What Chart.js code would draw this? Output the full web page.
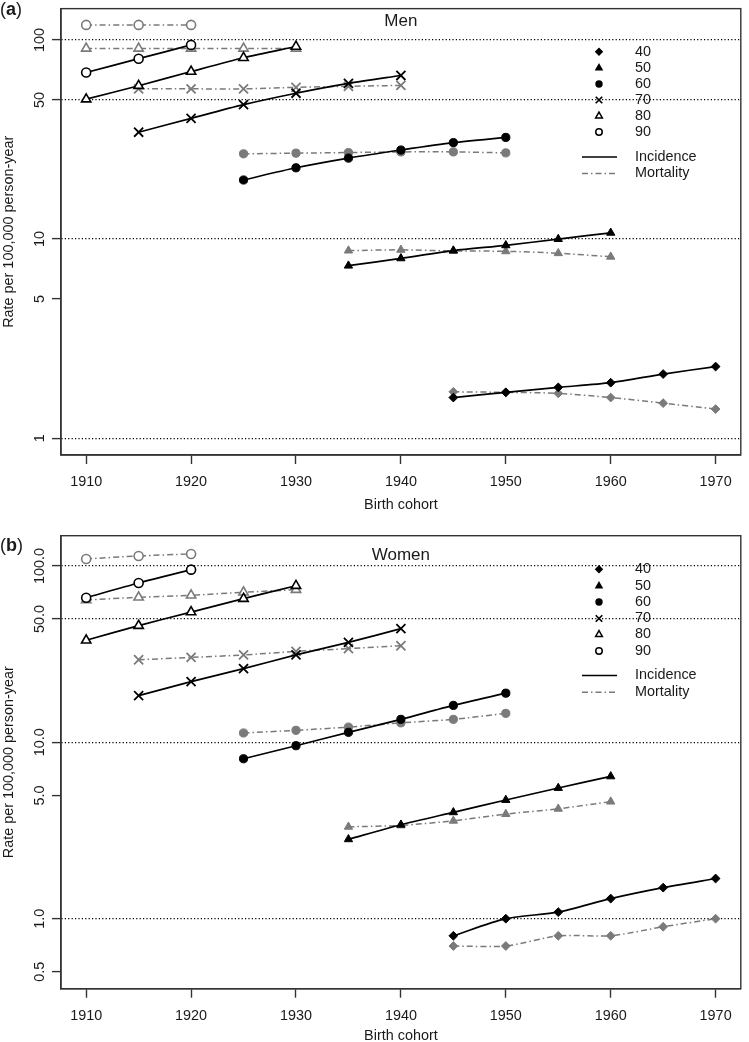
<!DOCTYPE html>
<html><head><meta charset="utf-8">
<script src="https://cdn.jsdelivr.net/npm/chart.js@4.4.0/dist/chart.umd.min.js"></script>
<style>
html,body{margin:0;padding:0;background:#fff;overflow:hidden;width:749px;height:1042px}
canvas{position:absolute;left:0}
#c1{top:0}
#c2{top:520px}
</style></head><body>
<canvas id="c1" width="749" height="520"></canvas>
<canvas id="c2" width="749" height="530"></canvas>
<script>
// ---------- data ----------
const ageGroups = ['40', '50', '60', '70', '80', '90'];
const cohorts40 = [1945, 1950, 1955, 1960, 1965, 1970];
const cohorts50 = [1935, 1940, 1945, 1950, 1955, 1960];
const cohorts60 = [1925, 1930, 1935, 1940, 1945, 1950];
const cohorts70 = [1915, 1920, 1925, 1930, 1935, 1940];
const cohorts80 = [1910, 1915, 1920, 1925, 1930];
const cohorts90 = [1910, 1915, 1920];

const menIncidence40 = [1.60, 1.70, 1.80, 1.90, 2.10, 2.29];
const menIncidence50 = [7.35, 8.0, 8.75, 9.3, 10.0, 10.75];
const menIncidence60 = [19.8, 22.8, 25.5, 28.0, 30.5, 32.4];
const menIncidence70 = [34.4, 40.4, 47.3, 54.0, 60.5, 66.3];
const menIncidence80 = [50.4, 58.9, 69.4, 81.4, 92.7];
const menIncidence90 = [68.6, 80.5, 94.4];

const menMortality40 = [1.71, 1.70, 1.68, 1.60, 1.50, 1.40];
const menMortality50 = [8.75, 8.83, 8.72, 8.68, 8.49, 8.15];
const menMortality60 = [26.8, 27.0, 27.2, 27.4, 27.4, 27.1];
const menMortality70 = [56.8, 56.8, 56.8, 57.8, 58.5, 59.1];
const menMortality80 = [90.6, 90.6, 90.6, 90.6, 90.6];
const menMortality90 = [119, 119, 119];

const womenIncidence40 = [0.80, 1.00, 1.09, 1.30, 1.50, 1.69];
const womenIncidence50 = [2.82, 3.41, 4.01, 4.71, 5.51, 6.41];
const womenIncidence60 = [8.07, 9.57, 11.4, 13.5, 16.2, 19.0];
const womenIncidence70 = [18.4, 22.1, 26.2, 31.3, 36.9, 44.1];
const womenIncidence80 = [37.9, 45.9, 54.8, 65.3, 77.3];
const womenIncidence90 = [66.1, 80.1, 95.3];

const womenMortality40 = [0.70, 0.70, 0.80, 0.80, 0.90, 1.00];
const womenMortality50 = [3.32, 3.38, 3.59, 3.92, 4.20, 4.61];
const womenMortality60 = [11.3, 11.7, 12.2, 12.9, 13.5, 14.6];
const womenMortality70 = [29.4, 30.3, 31.3, 32.8, 34.0, 35.3];
const womenMortality80 = [64.2, 66.4, 68.2, 70.9, 73.4];
const womenMortality90 = [109.6, 114, 117];

const xTickValues = [1910, 1920, 1930, 1940, 1950, 1960, 1970];
const menYTicks = [1, 5, 10, 50, 100];
const menYTickLabels = ['1', '5', '10', '50', '100'];
const womenYTicks = [0.5, 1, 5, 10, 50, 100];
const womenYTickLabels = ['0.5', '1.0', '5.0', '10.0', '50.0', '100.0'];
const menRefLines = [1, 10, 50, 100];
const womenRefLines = [1, 10, 50, 100];
const seriesLabels = ['Incidence', 'Mortality'];

// ---------- styling ----------
const FONT = '"Liberation Sans", Arial, Helvetica, sans-serif';
const TEXT = '#1a1a1a';
const AXIS = '#333';
const GRAY = '#7a7a7a';
const DASHDOT = [6, 3, 1.5, 3];
const markers = [
  {style: 'rectRot', r: 4.4, filled: true},
  {style: 'triangle', r: 4.8, filled: true},
  {style: 'circle', r: 4.1, filled: true},
  {style: 'crossRot', r: 6.4, filled: false},
  {style: 'triangle', r: 5.4, filled: false},
  {style: 'circle', r: 4.5, filled: false}
];
const allCohorts = [cohorts40, cohorts50, cohorts60, cohorts70, cohorts80, cohorts90];

function makeSeries(values, ageIdx, isInc) {
  const m = markers[ageIdx];
  const col = isInc ? '#000' : GRAY;
  return {
    label: ageGroups[ageIdx] + ' ' + (isInc ? seriesLabels[0] : seriesLabels[1]),
    data: allCohorts[ageIdx].map((x, i) => ({x: x, y: values[i]})),
    borderColor: col,
    borderWidth: isInc ? 1.7 : 1.5,
    borderDash: isInc ? [] : DASHDOT,
    tension: 0.25,
    fill: false,
    pointStyle: m.style,
    pointRadius: m.r,
    pointHoverRadius: m.r,
    pointBorderColor: col,
    pointBackgroundColor: m.filled ? col : '#fff',
    pointBorderWidth: m.style === 'crossRot' ? 1.8 : (m.filled ? 1 : 1.6)
  };
}

function drawMarker(ctx, idx, x, y, scale, col) {
  const m = markers[idx];
  const r = m.r * scale;
  ctx.save();
  ctx.strokeStyle = col; ctx.fillStyle = m.filled ? col : '#fff';
  ctx.lineWidth = 1.5; ctx.setLineDash([]);
  ctx.beginPath();
  if (m.style === 'circle') {
    ctx.arc(x, y, r, 0, Math.PI * 2);
    ctx.fill(); ctx.stroke();
  } else if (m.style === 'triangle') {
    for (let k = 0; k < 3; k++) {
      const a = k * 2 * Math.PI / 3;
      const px = x + Math.sin(a) * r, py = y - Math.cos(a) * r;
      if (k === 0) ctx.moveTo(px, py); else ctx.lineTo(px, py);
    }
    ctx.closePath(); ctx.fill(); ctx.stroke();
  } else if (m.style === 'rectRot') {
    ctx.moveTo(x, y - r); ctx.lineTo(x + r, y); ctx.lineTo(x, y + r); ctx.lineTo(x - r, y);
    ctx.closePath(); ctx.fill(); ctx.stroke();
  } else {
    const d = r * Math.SQRT1_2;
    ctx.lineWidth = 1.7;
    ctx.moveTo(x - d, y - d); ctx.lineTo(x + d, y + d);
    ctx.moveTo(x + d, y - d); ctx.lineTo(x - d, y + d);
    ctx.stroke();
  }
  ctx.restore();
}

const decoPlugin = {
  id: 'panelDeco',
  afterDraw(chart, args, o) {
    const ctx = chart.ctx, ca = chart.chartArea;
    ctx.save();
    ctx.strokeStyle = AXIS; ctx.lineWidth = 1.4; ctx.setLineDash([]);
    ctx.strokeRect(ca.left, ca.top, ca.right - ca.left, ca.bottom - ca.top);
    ctx.fillStyle = TEXT;
    ctx.textBaseline = 'middle'; ctx.textAlign = 'center';
    ctx.font = '17px ' + FONT;
    ctx.fillText(o.title, (ca.left + ca.right) / 2, o.titleY);
    // panel tag "(a)" with bold letter
    ctx.textBaseline = 'alphabetic'; ctx.textAlign = 'left';
    let tx = 0;
    ctx.font = '18px ' + FONT; ctx.fillText('(', tx, o.tagY); tx += ctx.measureText('(').width;
    ctx.font = 'bold 18px ' + FONT; ctx.fillText(o.tag, tx, o.tagY); tx += ctx.measureText(o.tag).width;
    ctx.font = '18px ' + FONT; ctx.fillText(')', tx, o.tagY);
    // legend
    ctx.font = '14.4px ' + FONT; ctx.textBaseline = 'middle';
    ageGroups.forEach((a, i) => {
      drawMarker(ctx, i, o.symX, o.rows[i], 0.72, '#000');
      ctx.fillStyle = TEXT;
      ctx.fillText(a, o.textX, o.rows[i]);
    });
    ctx.lineWidth = 1.7; ctx.strokeStyle = '#000'; ctx.setLineDash([]);
    ctx.beginPath(); ctx.moveTo(o.lineX0, o.lineRows[0]); ctx.lineTo(o.lineX1, o.lineRows[0]); ctx.stroke();
    ctx.lineWidth = 1.5; ctx.strokeStyle = GRAY; ctx.setLineDash(DASHDOT);
    ctx.beginPath(); ctx.moveTo(o.lineX0, o.lineRows[1]); ctx.lineTo(o.lineX1, o.lineRows[1]); ctx.stroke();
    ctx.setLineDash([]);
    ctx.fillStyle = TEXT;
    ctx.fillText(seriesLabels[0], o.textX, o.lineRows[0]);
    ctx.fillText(seriesLabels[1], o.textX, o.lineRows[1]);
    ctx.restore();
  }
};

function buildChart(id, cfg) {
  const datasets = [];
  cfg.inc.forEach((v, i) => datasets.push(makeSeries(v, i, true)));
  cfg.mort.forEach((v, i) => datasets.push(makeSeries(v, i, false)));
  return new Chart(document.getElementById(id), {
    type: 'line',
    data: {datasets: datasets},
    plugins: [decoPlugin],
    options: {
      responsive: false, animation: false, devicePixelRatio: 1,
      layout: {padding: {top: cfg.padTop, right: 2, left: 0, bottom: 0}},
      plugins: {legend: {display: false}, tooltip: {enabled: false}, panelDeco: cfg.deco},
      scales: {
        x: {
          type: 'linear', min: 1907.6, max: 1972.4, bounds: 'data',
          afterBuildTicks: s => { s.ticks = xTickValues.map(v => ({value: v})); },
          afterFit: s => { s.height = cfg.xAxisH; },
          ticks: {autoSkip: false, minRotation: 0, maxRotation: 0, padding: cfg.xPad, color: TEXT,
                  font: {family: FONT, size: 14.4}, callback: v => String(v)},
          grid: {display: true, drawOnChartArea: false, drawTicks: true, tickLength: 9,
                 color: AXIS, tickColor: AXIS, tickWidth: 1.4},
          border: {display: true, color: AXIS, width: 1.4},
          title: {display: true, text: 'Birth cohort', color: TEXT, font: {family: FONT, size: 14.4},
                  padding: {top: 0, bottom: cfg.xTitlePad}}
        },
        y: {
          type: 'logarithmic', min: cfg.yMin, max: cfg.yMax, bounds: 'data',
          afterBuildTicks: s => { s.ticks = cfg.yTicks.map(v => ({value: v})); },
          afterFit: s => { s.width = 61; },
          ticks: {autoSkip: false, minRotation: 90, maxRotation: 90, crossAlign: 'center', padding: cfg.yPad,
                  color: TEXT, font: {family: FONT, size: 14.4},
                  callback: v => cfg.yLabels[cfg.yTicks.indexOf(v)]},
          grid: {display: true, drawOnChartArea: true, drawTicks: true, tickLength: 9,
                 color: c => (c.tick && cfg.refLines.includes(c.tick.value)) ? '#000' : 'rgba(0,0,0,0)',
                 lineWidth: 1.2, tickColor: AXIS, tickWidth: 1.4},
          border: {display: true, color: AXIS, width: 1.4, dash: [1.2, 2.2]},
          title: {display: true, text: 'Rate per 100,000 person-year', color: TEXT,
                  font: {family: FONT, size: 14.4}, padding: {top: 0, bottom: 0}}
        }
      }
    }
  });
}

buildChart('c1', {
  inc: [menIncidence40, menIncidence50, menIncidence60, menIncidence70, menIncidence80, menIncidence90],
  mort: [menMortality40, menMortality50, menMortality60, menMortality70, menMortality80, menMortality90],
  padTop: 3, xAxisH: 65, xPad: 9, xTitlePad: 6,
  yMin: 0.8235, yMax: 143.6, yTicks: menYTicks, yLabels: menYTickLabels, yPad: 0, refLines: menRefLines,
  deco: {title: 'Men', titleY: 21, tag: 'a', tagY: 15, symX: 599, textX: 635,
         rows: [51.7, 68, 84, 100, 116, 132], lineRows: [157, 173.5], lineX0: 582, lineX1: 617}
});

buildChart('c2', {
  inc: [womenIncidence40, womenIncidence50, womenIncidence60, womenIncidence70, womenIncidence80, womenIncidence90],
  mort: [womenMortality40, womenMortality50, womenMortality60, womenMortality70, womenMortality80, womenMortality90],
  padTop: 15.7, xAxisH: 61.3, xPad: 10, xTitlePad: 5.4,
  yMin: 0.4009, yMax: 148.5, yTicks: womenYTicks, yLabels: womenYTickLabels, yPad: -6.5, refLines: womenRefLines,
  deco: {title: 'Women', titleY: 35, tag: 'b', tagY: 31, symX: 599, textX: 635,
         rows: [49.3, 66, 82, 98.5, 114.5, 131], lineRows: [155.5, 172.3], lineX0: 582, lineX1: 617}
});
</script>
</body></html>
